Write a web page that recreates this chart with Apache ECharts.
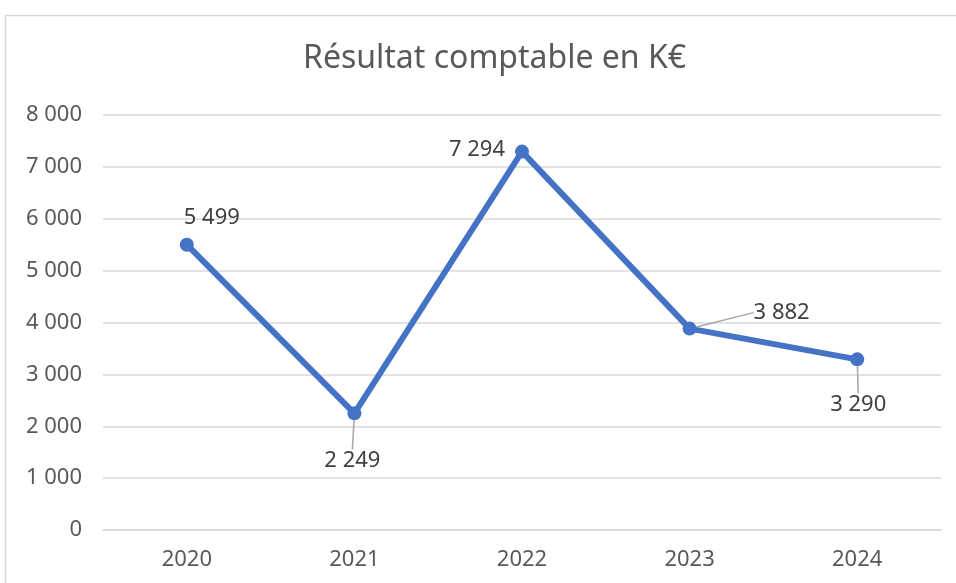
<!DOCTYPE html>
<html>
<head>
<meta charset="utf-8">
<script src="https://cdn.jsdelivr.net/npm/echarts@6/dist/echarts.min.js"></script>
<style>
  html, body { margin: 0; padding: 0; background: #fff; }
  #chart { width: 956px; height: 583px; }
</style>
</head>
<body>
<div id="chart"></div>
<script>
const years = ['2020', '2021', '2022', '2023', '2024'];
const resultat = [5499, 2249, 7294, 3882, 3290];

// label shifts relative to each point (dx, dy)
const labelShift = [[25, -27], [-2, 47], [-45, -2], [92, -16], [1, 45]];
const withLeader = [false, true, false, true, true];

const fmt = (v) => String(v).replace(/\B(?=(\d{3})+(?!\d))/g, ' ');
const FONT = '"Noto Sans", "Open Sans", sans-serif';

const chart = echarts.init(document.getElementById('chart'));
chart.setOption({
  animation: false,
  backgroundColor: '#fff',
  graphic: [{
    type: 'rect',
    shape: { x: 5.5, y: 15.5, width: 1000, height: 700 },
    style: { fill: 'none', stroke: '#d9d9d9', lineWidth: 1.5 },
    silent: true
  }],
  title: {
    text: 'Résultat comptable en K€',
    left: 298,
    top: 38,
    textStyle: { fontFamily: FONT, fontSize: 32, fontWeight: 'normal', color: '#595959' }
  },
  grid: { left: 103, right: 15, top: 115, bottom: 53 },
  xAxis: {
    type: 'category',
    data: years,
    axisLine: { lineStyle: { color: '#d9d9d9', width: 1.5 } },
    axisTick: { show: false },
    axisLabel: { fontFamily: FONT, fontSize: 22, color: '#595959', margin: 19 }
  },
  yAxis: {
    type: 'value',
    min: 0,
    max: 8000,
    interval: 1000,
    axisLine: { show: false },
    axisTick: { show: false },
    splitLine: { lineStyle: { color: '#d9d9d9', width: 1.5 } },
    axisLabel: { fontFamily: FONT, fontSize: 22, color: '#595959', margin: 21, formatter: fmt }
  },
  series: [{
    type: 'line',
    data: resultat.map((v, i) => ({
      value: v,
      labelLine: { show: withLeader[i], lineStyle: { color: '#a6a6a6', width: 1.5 } }
    })),
    symbol: 'circle',
    symbolSize: 14,
    lineStyle: { color: '#4472c4', width: 6 },
    itemStyle: { color: '#4472c4' },
    label: {
      show: true,
      position: 'inside',
      fontFamily: FONT,
      fontSize: 22,
      color: '#404040',
      formatter: (p) => fmt(p.value)
    },
    labelLayout: (p) => ({ dx: labelShift[p.dataIndex][0], dy: labelShift[p.dataIndex][1] })
  }]
});
</script>
</body>
</html>
